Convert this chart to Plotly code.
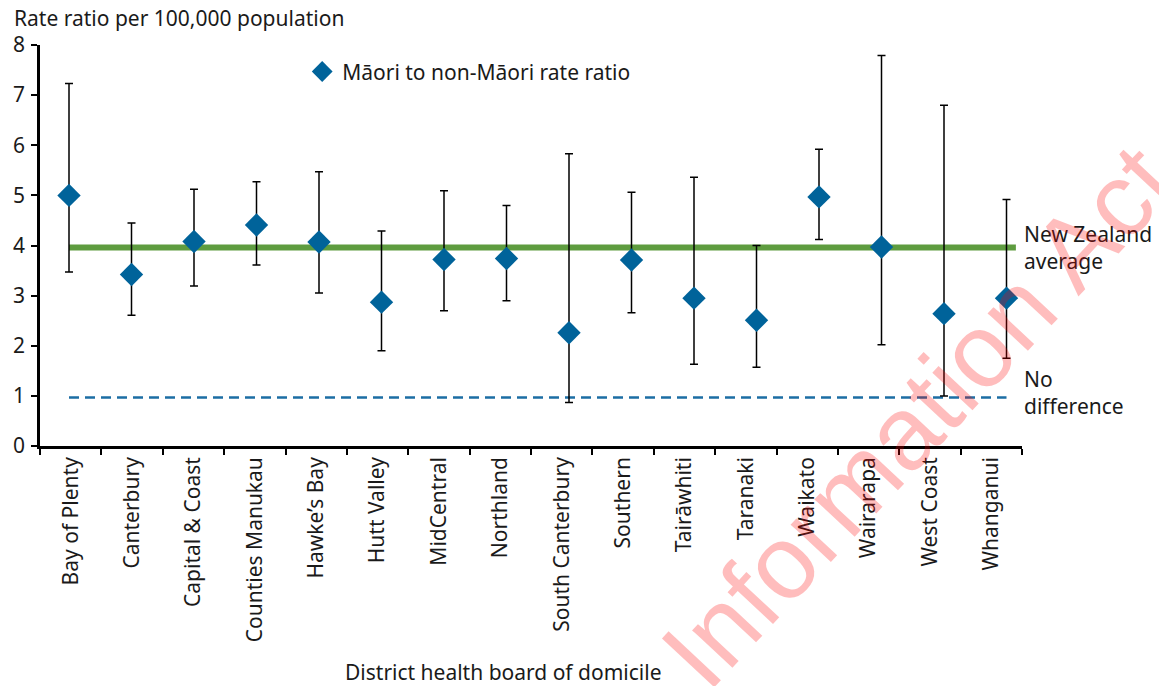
import plotly.graph_objects as go

districts = ["Bay of Plenty", "Canterbury", "Capital & Coast", "Counties Manukau",
             "Hawke’s Bay", "Hutt Valley", "MidCentral", "Northland",
             "South Canterbury", "Southern", "Tairāwhiti", "Taranaki",
             "Waikato", "Wairarapa", "West Coast", "Whanganui"]
rate_ratio = [5.00, 3.42, 4.08, 4.41, 4.07, 2.87, 3.72, 3.74,
              2.26, 3.71, 2.95, 2.51, 4.97, 3.97, 2.64, 2.95]
ci_upper = [7.23, 4.45, 5.12, 5.27, 5.47, 4.29, 5.09, 4.80,
            5.83, 5.06, 5.36, 4.00, 5.92, 7.79, 6.80, 4.92]
ci_lower = [3.47, 2.61, 3.19, 3.61, 3.05, 1.90, 2.70, 2.90,
            0.87, 2.66, 1.63, 1.57, 4.12, 2.02, 1.00, 1.75]
nz_average = 3.96
no_difference = 0.97
y_ticks = [0, 1, 2, 3, 4, 5, 6, 7, 8]

FONT = "Noto Sans"
FS = 21
TXT = "#1a1a1a"

n = len(districts)
point_pos = list(range(n))  # marker positions on the overlaid value axis
err_plus = [u - v for u, v in zip(ci_upper, rate_ratio)]
err_minus = [v - l for v, l in zip(rate_ratio, ci_lower)]

fig = go.Figure()
# invisible trace that carries the category axis
fig.add_trace(go.Scatter(x=districts, y=rate_ratio, mode="markers", marker=dict(opacity=0),
                         showlegend=False, hoverinfo="skip", xaxis="x", yaxis="y"))

# reference lines (on overlaid axis)
fig.add_trace(go.Scatter(x=[point_pos[0], point_pos[-1] + 0.15], y=[nz_average, nz_average],
                         mode="lines", line=dict(color="#5e9c3f", width=6),
                         showlegend=False, hoverinfo="skip", xaxis="x2", yaxis="y"))
fig.add_trace(go.Scatter(x=[point_pos[0], point_pos[-1]], y=[no_difference, no_difference],
                         mode="lines", line=dict(color="#1c6ea4", width=2.5, dash="10px,6px"),
                         showlegend=False, hoverinfo="skip", xaxis="x2", yaxis="y"))

fig.add_trace(go.Scatter(
    x=point_pos, y=rate_ratio, mode="markers", xaxis="x2", yaxis="y",
    name="Māori to non-Māori rate ratio", text=districts,
    marker=dict(symbol="diamond", size=18, color="#00639a"),
    error_y=dict(type="data", symmetric=False, array=err_plus, arrayminus=err_minus,
                 color="black", thickness=1.5, width=4),
))

fig.add_annotation(text="New Zealand<br>average", xref="paper", yref="y", x=1.0, y=nz_average,
                   xanchor="left", yanchor="middle", align="left", showarrow=False,
                   font=dict(family=FONT, size=FS, color=TXT))
fig.add_annotation(text="No<br>difference", xref="paper", yref="y", x=1.0, y=no_difference,
                   xanchor="left", yanchor="middle", align="left", showarrow=False, yshift=5,
                   font=dict(family=FONT, size=FS, color=TXT))

fig.add_annotation(text="Rate ratio per 100,000 population", xref="paper", yref="paper",
                   x=-0.0285, y=1.067, xanchor="left", yanchor="middle", showarrow=False,
                   font=dict(family=FONT, size=FS, color=TXT))
fig.add_annotation(text="District health board of domicile", xref="paper", yref="paper",
                   x=0.472, y=-0.564, xanchor="center", yanchor="middle", showarrow=False,
                   font=dict(family=FONT, size=FS, color=TXT))

# watermark
fig.add_annotation(text="Information Act", xref="paper", yref="paper",
                   x=0.894, y=0.075, xanchor="center", yanchor="middle", showarrow=False,
                   textangle=-47,
                   font=dict(family="Liberation Sans", size=104, color="rgba(255,0,0,0.26)"))

fig.update_layout(
    width=1159, height=686,
    margin=dict(l=40, r=137, t=45, b=240),
    paper_bgcolor="white", plot_bgcolor="white",
    font=dict(family=FONT, size=FS, color=TXT),
    showlegend=True,
    legend=dict(x=0.267, y=0.933, xanchor="left", yanchor="middle",
                bgcolor="rgba(0,0,0,0)", font=dict(family=FONT, size=FS, color=TXT)),
    xaxis=dict(type="category", categoryorder="array", categoryarray=districts,
               tickson="boundaries", tickangle=-90,
               showline=True, linecolor="black", linewidth=2.5,
               ticks="outside", ticklen=6, tickwidth=1.5, tickcolor="black",
               showgrid=False, zeroline=False, range=[-0.5, n - 0.5],
               tickfont=dict(family=FONT, size=FS, color=TXT)),
    xaxis2=dict(overlaying="x", range=[-0.464, 15.248], visible=False,
                showgrid=False, zeroline=False),
    yaxis=dict(range=[0, 8], tickvals=y_ticks, showline=True, linecolor="black", linewidth=2.5,
               ticks="outside", ticklen=6, tickwidth=1.5, tickcolor="black",
               showgrid=False, zeroline=False, ticklabelstandoff=2,
               tickfont=dict(family=FONT, size=FS, color=TXT)),
)

fig.write_html("out.html", config={"displayModeBar": False},
               post_script="document.body.style.margin='0';")
